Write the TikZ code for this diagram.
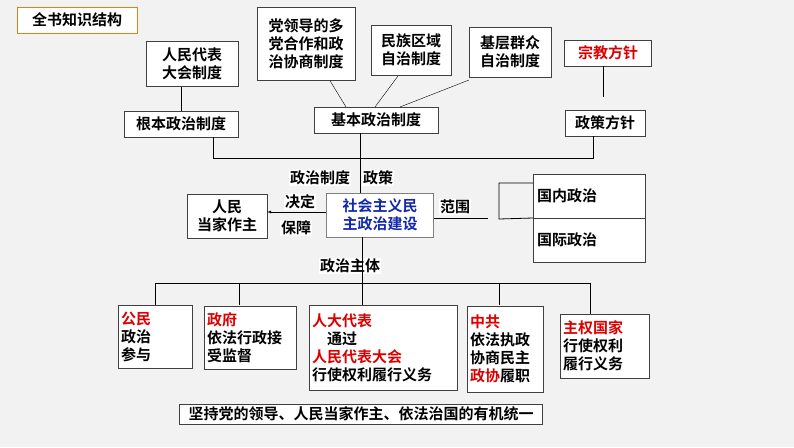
\documentclass[tikz,border=0pt]{standalone}
\usepackage{fontspec}
\setmainfont{Noto Sans CJK SC}[BoldFont={Noto Sans CJK SC Bold}]
\usepackage{tikz}
\definecolor{deepred}{RGB}{220,0,0}
\definecolor{deepblue}{RGB}{20,40,170}
\tikzset{
  box/.style={draw=black!75, fill=white, inner sep=2pt, align=center, font=\fontsize{15}{18}\selectfont\bfseries},
  lbox/.style={draw=black!75, fill=white, inner sep=3pt, align=left, anchor=north west, font=\fontsize{15}{18}\selectfont\bfseries},
  lab/.style={fill=white, inner sep=1pt, font=\fontsize{15}{18}\selectfont\bfseries},
  link/.style={thick}
}
\newcommand{\rd}[1]{\textcolor{deepred}{#1}}
\begin{document}
\begin{tikzpicture}[x=1pt,y=-1pt]
\fill[black!5] (0,0) rectangle (794,447);
\useasboundingbox (0,0) rectangle (794,447);
% top row
\node[box, draw=orange!60!brown, minimum width=120, minimum height=26] (title) at (77,20) {全书知识结构};
\node[box, minimum width=92, minimum height=45] (npc) at (192,64) {人民代表\\大会制度};
\node[box, minimum width=114, minimum height=26] (root) at (181,124) {根本政治制度};
\node[box, minimum width=98, minimum height=73] (party) at (306,44) {党领导的多\\党合作和政\\治协商制度};
\node[box, minimum width=80, minimum height=50] (ethnic) at (411,50) {民族区域\\自治制度};
\node[box, minimum width=82, minimum height=50] (grass) at (510,52) {基层群众\\自治制度};
\node[box, minimum width=87, minimum height=26, text=deepred] (relig) at (608,53) {宗教方针};
\node[box, minimum width=124, minimum height=26] (basic) at (376,120) {基本政治制度};
\node[box, minimum width=80, minimum height=26] (policy) at (605,123) {政策方针};
\coordinate (religend) at (603,97);
\draw (npc.south -| root.north) -- (root.north);
\draw (party.south) ++(24,0) -- (346,107);
\draw (398,76) -- (375,107);
\draw (469,80) -- (400,107);
\draw (relig.south -| religend) -- (religend);
\draw[link] (213,137) |- (593,158) -- (593,136);
% middle
\node[box, draw=black!50, minimum width=107, minimum height=44, text=deepblue] (build) at (380,215) {社会主义民\\主政治建设};
\node[box, minimum width=80, minimum height=44] (people) at (227,216) {人民\\当家作主};
\draw[link] (basic.south -| 360,0) -- (build.north -| 360,0);
\node[lab] (zd) at (320,178) {政治制度};
\node[lab] (zc) at (378,178) {政策};
\draw[-latex] (build.west |- 0,212) -- (people.east |- 0,212);
\node[lab] (jd) at (300,202) {决定};
\node[lab] (bz) at (296,228) {保障};
\node[box, minimum width=112, minimum height=44, anchor=north west, align=left, text width=104] (home) at (533,174) {国内政治\\[8pt]};
\node[box, minimum width=112, minimum height=44, anchor=north west, align=left, text width=104] (world) at (533,218) {国际政治\\[8pt]};
\draw[link] (build.east |- 0,218) -- (488,218);
\node[lab] (fw) at (455,207) {范围};
\draw[link] (home.west |- 0,183) -| (499,219) -- (world.north west);
% bottom
\node[lab] (zt) at (350,266) {政治主体};
\draw[link] (build.south -| 362,0) -- (362,283);
\draw[link] (155,283) -- (590,283);
\node[lbox, text width=68, minimum height=63] (citizen) at (118,305) {\rd{公民}\\政治\\参与};
\node[lbox, text width=86, minimum height=63] (gov) at (204,306) {\rd{政府}\\依法行政接\\受监督};
\node[lbox, text width=142, minimum height=85] (deput) at (309,305) {\rd{人大代表}\\\quad 通过\\\rd{人民代表大会}\\行使权利履行义务};
\node[lbox, text width=70, minimum height=86] (cpc) at (467,306) {\rd{中共}\\依法执政\\协商民主\\\rd{政协}履职};
\node[lbox, text width=83, minimum height=64] (state) at (560,314) {\rd{主权国家}\\行使权利\\履行义务};
\foreach \n/\x in {citizen/155,gov/239,deput/362,cpc/499}
  \draw[link] (\x,283) -- (\x,305);
\draw[link] (590,283) -- (590,314);
\node[box, minimum width=363, minimum height=20] (unity) at (361,414) {坚持党的领导、人民当家作主、依法治国的有机统一};
\end{tikzpicture}
\end{document}
